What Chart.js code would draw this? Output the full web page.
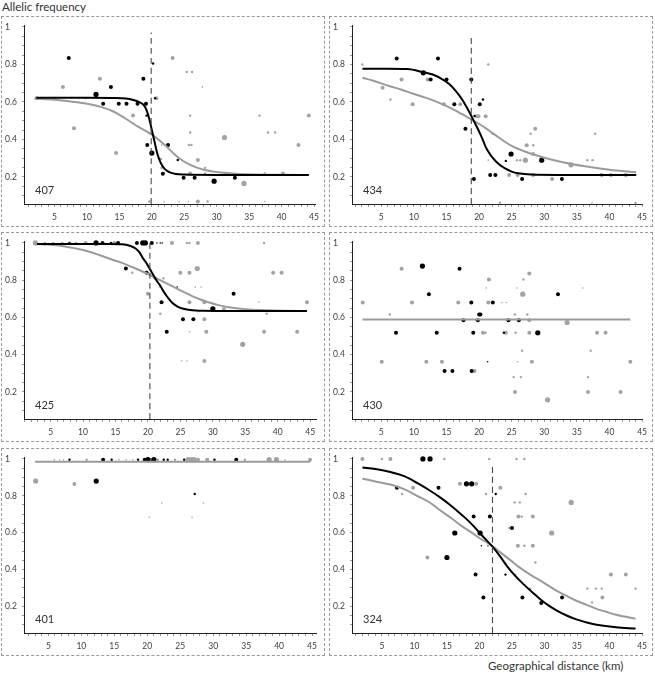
<!DOCTYPE html>
<html>
<head>
<meta charset="utf-8">
<script src="https://cdn.jsdelivr.net/npm/chart.js@4.4.1/dist/chart.umd.min.js"></script>
<style>
  body { margin: 0; background: #fff; width: 655px; height: 680px; position: relative; overflow: hidden; font-family: Lato, sans-serif; color: #333; }
  .panel { position: absolute; box-sizing: border-box; border: 1px dashed #9a9a9a; }
  .panel canvas { position: absolute; left: 0; top: 0; }
  .tag { position: absolute; font-size: 11px; color: #333; }
  .cap { position: absolute; font-size: 11.5px; color: #333; white-space: nowrap; }
</style>
</head>
<body>
<div class="cap" style="left:2px;top:0px">Allelic frequency</div>
<div class="cap" style="left:488px;top:659px">Geographical distance (km)</div>
<script>
// tick labels
const xTickLabels = [5, 10, 15, 20, 25, 30, 35, 40, 45];
const yTickLabels = [0.2, 0.4, 0.6, 0.8, 1];

// points are [distance km, frequency, sample-size class 1..4]
const blk407 = [[7.2,0.835,3],[11.4,0.64,4],[12.5,0.59,3],[13.7,0.68,3],[14.9,0.59,3],[16.1,0.59,3],[17.8,0.59,3],[18.7,0.724,3],[19.1,0.59,3],[19.2,0.527,2],[19.3,0.37,3],[20.0,0.327,4],[20.2,0.805,2],[20.5,0.62,2],[22.5,0.37,3],[21.7,0.216,3],[24.0,0.29,2],[24.9,0.195,3],[26.6,0.195,3],[29.6,0.177,4],[32.8,0.195,3]];
const gry407 = [[2.2,0.62,3],[5,0.62,2],[6.3,0.68,3],[8.0,0.46,3],[9.8,0.62,2],[12.0,0.724,3],[14.5,0.327,3],[17.1,0.527,3],[20.7,0.62,3],[21.4,0.295,2],[21.5,0.248,2],[21.5,0.37,1],[23.2,0.835,3],[25.4,0.76,2],[26.2,0.76,2],[25.9,0.527,2],[25.9,0.437,2],[25.7,0.37,2],[26.1,0.37,2],[25.9,0.218,3],[27.1,0.29,3],[27.8,0.68,1],[28.2,0.248,2],[28.2,0.218,2],[31.2,0.41,4],[34.2,0.165,4],[36.6,0.527,2],[37.4,0.218,2],[37.9,0.437,2],[39.0,0.437,2],[40.2,0.218,3],[42.6,0.37,3],[44.2,0.527,3],[19.6,0.068,2],[21.9,0.068,1],[24.2,0.068,1],[25.6,0.068,1],[27.1,0.068,3],[28.6,0.068,2],[37.4,0.068,1]];
const fitB407 = [[2.2,0.622],[6,0.622],[10,0.622],[14,0.621],[16,0.618],[17,0.612],[18,0.6],[18.7,0.585],[19.2,0.555],[19.6,0.51],[20,0.45],[20.4,0.39],[20.8,0.33],[21.3,0.28],[21.9,0.245],[22.7,0.225],[23.7,0.215],[25,0.212],[30,0.21],[40,0.21],[44.2,0.21]];
const fitG407 = [[2,0.617],[5,0.612],[8,0.6],[10,0.59],[12,0.575],[14,0.55],[16,0.51],[18,0.465],[20,0.425],[22,0.37],[24,0.305],[26,0.262],[28,0.238],[30,0.226],[33,0.217],[36,0.213],[40,0.211],[44.2,0.21]];

const blk434 = [[7.36,0.832,3],[11.44,0.755,4],[12.57,0.72,3],[13.69,0.832,3],[15.0,0.72,3],[16.2,0.587,3],[17.9,0.457,3],[18.8,0.72,3],[19.2,0.188,3],[19.3,0.525,2],[20.1,0.587,3],[20.6,0.613,2],[21.7,0.21,3],[22.5,0.21,3],[24.1,0.285,2],[24.9,0.322,4],[26.6,0.188,3],[29.6,0.289,4],[32.7,0.188,3]];
const gry434 = [[2.1,0.8,2],[5.2,0.676,3],[6.4,0.613,2],[8.1,0.72,3],[9.8,0.587,3],[12.1,0.72,3],[14.6,0.587,3],[17.1,0.587,3],[19.6,0.523,3],[19.9,0.523,3],[21.0,0.523,3],[21.4,0.8,2],[21.4,0.289,1],[22.1,0.43,2],[24.6,0.21,3],[25.9,0.21,3],[25.8,0.289,2],[26.3,0.289,2],[27.1,0.289,4],[27.3,0.369,3],[27.9,0.43,2],[28.3,0.369,2],[28.3,0.322,3],[28.6,0.457,3],[28.3,0.21,3],[31.2,0.188,3],[34.1,0.264,4],[36.6,0.289,2],[37.4,0.289,2],[37.8,0.43,2],[38.8,0.21,3],[40.2,0.21,3],[42.5,0.21,3],[23.2,0.06,2],[37.3,0.06,1],[44.0,0.06,2]];
const fitB434 = [[2.1,0.777],[6,0.777],[9,0.775],[11.3,0.76],[13,0.745],[14.5,0.718],[15.5,0.693],[16.5,0.655],[17.4,0.613],[18.2,0.565],[19,0.512],[19.6,0.47],[20.2,0.427],[20.6,0.395],[21,0.36],[21.5,0.33],[22,0.305],[23,0.268],[24,0.245],[25,0.228],[26,0.219],[28,0.212],[32,0.21],[38,0.21],[44.1,0.21]];
const fitG434 = [[2.1,0.729],[4,0.71],[6.2,0.685],[8,0.666],[9.8,0.645],[12,0.62],[13.8,0.596],[15.5,0.57],[17,0.542],[18,0.523],[19,0.502],[20,0.482],[21,0.46],[22,0.435],[23,0.41],[25,0.365],[27,0.335],[30,0.302],[33,0.277],[36,0.258],[40,0.238],[44.1,0.224]];

const blk425 = [[7.9,1.0,2],[12.0,1.0,4],[13.0,1.0,3],[14.3,1.0,2],[15.4,1.0,3],[16.6,0.863,3],[18.3,1.0,3],[19.2,1.0,4],[19.6,1.0,4],[19.8,0.84,3],[20.6,1.0,3],[21.1,0.81,2],[21.9,1.0,1],[22.2,1.0,1],[22.1,0.682,3],[22.9,0.523,3],[24.5,0.763,1],[25.4,0.59,3],[27.0,0.59,3],[30.0,0.646,4],[33.2,0.727,3]];
const gry425 = [[2.65,1.0,4],[4.1,1.0,2],[5.4,1.0,2],[6.8,1.0,2],[8.9,1.0,2],[10.4,1.0,3],[14.8,1.0,3],[17.6,0.84,2],[20.0,0.727,3],[21.4,1.0,2],[21.8,0.763,1],[21.9,0.62,2],[22.4,0.81,2],[23.7,1.0,3],[25.0,0.84,3],[25.2,0.366,1],[26.0,0.366,1],[26.0,1.0,2],[26.4,1.0,2],[27.7,1.0,3],[26.4,0.84,3],[26.4,0.682,3],[26.4,0.523,1],[27.3,0.763,1],[28.2,0.763,1],[27.6,0.863,4],[28.7,0.59,3],[28.7,0.682,3],[28.7,0.366,3],[29.0,0.523,3],[31.7,0.646,3],[34.6,0.456,4],[37.1,0.682,1],[37.9,1.0,2],[37.9,0.523,3],[38.3,0.62,2],[39.3,0.84,3],[40.6,0.84,3],[43.0,0.523,3],[44.5,0.682,3]];
const fitB425 = [[2.9,0.995],[8,0.995],[14,0.995],[16,0.993],[17.2,0.985],[18.1,0.97],[18.7,0.95],[19.2,0.92],[19.8,0.89],[20.3,0.86],[20.8,0.83],[21.3,0.8],[21.9,0.77],[22.4,0.74],[23,0.71],[23.7,0.68],[24.5,0.66],[25.3,0.648],[26.5,0.64],[28.5,0.636],[33,0.635],[40,0.635],[44.5,0.635]];
const fitG425 = [[2.6,0.995],[5,0.99],[7.4,0.98],[10,0.962],[12.5,0.935],[14.5,0.91],[16,0.893],[17.6,0.87],[19.6,0.84],[21,0.815],[22.2,0.795],[23.5,0.772],[25,0.745],[26.8,0.715],[28,0.698],[29.3,0.682],[31,0.665],[33,0.652],[35,0.644],[38,0.639],[41,0.636],[44.5,0.635]];

const blk430 = [[11.3,0.876,4],[12.3,0.725,3],[7.25,0.518,3],[13.5,0.518,3],[14.7,0.313,3],[15.9,0.313,3],[17.0,0.862,3],[17.6,0.585,3],[18.85,0.313,3],[18.8,0.68,3],[19.1,0.518,3],[19.8,0.585,3],[20.0,0.616,3],[20.2,0.616,3],[21.3,0.362,1],[22.1,0.68,3],[23.8,0.518,2],[24.5,0.585,3],[26.1,0.585,3],[29.0,0.518,4],[32.1,0.725,3]];
const gry430 = [[2.15,0.68,3],[5.06,0.362,3],[6.3,0.616,2],[8.1,0.862,3],[9.7,0.68,3],[11.9,0.362,3],[14.3,0.362,3],[16.8,0.68,3],[19.3,0.313,3],[20.6,0.518,3],[21.0,0.518,2],[21.1,0.758,1],[21.5,0.804,3],[21.4,0.68,3],[23.5,0.68,1],[24.2,0.68,1],[24.1,0.518,3],[25.5,0.616,2],[25.6,0.518,2],[25.8,0.758,1],[25.9,0.362,1],[25.3,0.28,2],[25.5,0.2,3],[26.4,0.28,2],[26.6,0.422,2],[26.7,0.725,4],[26.8,0.804,2],[27.4,0.616,2],[27.7,0.836,3],[27.7,0.585,3],[27.7,0.518,3],[28.1,0.362,3],[33.5,0.573,4],[35.9,0.758,1],[36.7,0.28,2],[36.7,0.2,3],[37.1,0.422,2],[38.1,0.518,3],[39.4,0.518,3],[41.7,0.2,3],[43.2,0.362,3],[30.5,0.158,4]];
const fitG430 = [[2.1,0.589],[43.2,0.589]];

const blk401 = [[8.2,0.996,2],[13.3,0.996,3],[14.6,0.996,2],[18.6,0.996,2],[19.6,0.996,3],[20.1,0.996,4],[21.0,0.996,4],[22.5,0.996,2],[23.1,0.996,2],[25.6,0.996,2],[30.2,0.996,2],[33.5,0.996,3],[12.26,0.88,4],[27.2,0.81,2]];
const gry401 = [[5.9,0.996,1],[6.7,0.996,1],[7.3,0.996,1],[10.8,0.996,2],[15.7,0.996,1],[16.8,0.996,1],[17.8,0.996,1],[20.6,0.996,3],[21.6,0.996,2],[24.2,0.996,2],[26.2,0.996,4],[26.7,0.996,4],[27.1,0.996,4],[27.7,0.996,3],[29.1,0.996,3],[34.8,0.996,2],[38.5,0.996,4],[39.6,0.996,4],[40.9,0.996,1],[44.7,0.996,3],[3.07,0.88,4],[8.94,0.864,3],[22.2,0.761,1],[28.5,0.761,1],[20.3,0.683,1],[26.8,0.683,1]];
const fitG401 = [[3.0,0.985],[44.7,0.985]];

const blk324 = [[11.3,1.0,4],[12.4,1.0,4],[7.3,0.844,3],[13.7,0.844,3],[18.0,0.865,4],[18.8,0.865,4],[19.1,0.687,3],[21.6,0.687,3],[16.2,0.598,4],[20.1,0.598,4],[20.3,0.529,1],[22.5,0.81,2],[25.0,0.625,3],[15.0,0.465,4],[19.4,0.372,3],[24.0,0.372,2],[20.6,0.248,3],[26.6,0.248,3],[29.5,0.218,3],[32.7,0.248,3]];
const gry324 = [[2.0,1.0,3],[5.0,1.0,2],[6.3,1.0,3],[14.6,1.0,2],[21.5,1.0,2],[25.7,1.0,2],[26.9,1.0,2],[8.1,0.81,2],[9.8,0.844,3],[17.0,0.865,3],[19.5,0.865,3],[21.0,0.81,2],[23.2,0.844,3],[25.4,0.764,2],[26.2,0.764,2],[27.1,0.81,2],[26.0,0.687,3],[26.5,0.687,2],[28.2,0.687,3],[24.6,0.625,2],[31.1,0.598,4],[34.1,0.764,4],[25.9,0.529,3],[26.9,0.529,2],[28.2,0.529,3],[21.3,0.529,2],[12.0,0.465,3],[28.6,0.438,2],[25.6,0.372,1],[27.8,0.296,2],[36.6,0.296,2],[37.9,0.296,2],[38.8,0.296,2],[38.9,0.248,3],[37.3,0.221,2],[40.2,0.372,3],[42.5,0.372,3],[44.0,0.296,2]];
const fitB324 = [[2,0.954],[4,0.945],[6.3,0.929],[8.5,0.905],[10.4,0.87],[12.3,0.83],[14,0.79],[15.3,0.755],[16.5,0.72],[17.8,0.68],[19.1,0.635],[20.5,0.58],[22,0.524],[23.2,0.47],[24.2,0.42],[25.5,0.365],[26.8,0.319],[28,0.28],[29.3,0.24],[30.6,0.205],[31.9,0.177],[33.4,0.15],[34.9,0.129],[36.5,0.112],[38,0.1],[41,0.086],[44,0.079]];
const fitG324 = [[2,0.893],[4,0.878],[6.3,0.861],[8.5,0.835],[10.4,0.8],[12.3,0.765],[14,0.72],[15.8,0.675],[17.5,0.63],[18.8,0.6],[20.1,0.568],[22,0.527],[23.3,0.49],[24.7,0.452],[26.2,0.41],[27.8,0.372],[29.8,0.33],[31.9,0.284],[33.4,0.256],[34.9,0.23],[36.5,0.208],[38,0.186],[39.5,0.17],[41,0.154],[42.5,0.143],[44,0.132]];

// cline centres (km) and the top of the dashed marker
const centre407 = [19.9, 0.97];
const centre434 = [18.8, 0.95];
const centre425 = [20.3, 1.01];
const centre324 = [22.0, 0.96];

const Y_MIN = 0.055, Y_MAX = 1.01;
const RADII = [0, 0.8, 1.2, 2.0, 2.6];
const BLACK = "#000000";
const GREY = "#a3a3a3";

const panels = [
  { tag: "407", box: [1, 16, 324, 211], blk: blk407, gry: gry407, fitB: fitB407, fitG: fitG407, centre: centre407, xMin: 0.3, xMax: 45.2 },
  { tag: "434", box: [329, 16, 324, 211], blk: blk434, gry: gry434, fitB: fitB434, fitG: fitG434, centre: centre434, xMin: 0.5, xMax: 45 },
  { tag: "425", box: [1, 232, 324, 210], blk: blk425, gry: gry425, fitB: fitB425, fitG: fitG425, centre: centre425, xMin: 0.9, xMax: 45.9 },
  { tag: "430", box: [329, 232, 324, 210], blk: blk430, gry: gry430, fitB: null, fitG: fitG430, centre: null, xMin: 0.5, xMax: 45 },
  { tag: "401", box: [1, 448, 324, 208], blk: blk401, gry: gry401, fitB: null, fitG: fitG401, centre: null, xMin: 1.3, xMax: 45.6 },
  { tag: "324", box: [329, 448, 324, 208], blk: blk324, gry: gry324, fitB: fitB324, fitG: fitG324, centre: centre324, xMin: 0.4, xMax: 45 },
];

const X_AXIS_H = 22;
const tickFont = { family: "Lato, sans-serif", size: 8.5 };

function pointsSet(list, color, order) {
  return {
    type: "scatter",
    data: list.map((p) => ({ x: p[0], y: p[1], s: p[2] })),
    backgroundColor: color,
    borderWidth: 0,
    pointRadius: (c) => RADII[c.raw ? c.raw.s : 2],
    pointHoverRadius: 0,
    clip: false,
    order,
  };
}

function lineSet(list, color, width, order, dash) {
  return {
    type: "line",
    data: list.map((p) => ({ x: p[0], y: p[1] })),
    borderColor: color,
    borderWidth: width,
    borderDash: dash || [],
    pointRadius: 0,
    fill: false,
    cubicInterpolationMode: "monotone",
    clip: false,
    order,
  };
}

for (const p of panels) {
  const [left, top, w, h] = p.box;
  const div = document.createElement("div");
  div.className = "panel";
  Object.assign(div.style, { left: left + "px", top: top + "px", width: w + "px", height: h + "px" });
  const cv = document.createElement("canvas");
  cv.width = w - 2;
  cv.height = h - 2;
  div.appendChild(cv);
  const tag = document.createElement("div");
  tag.className = "tag";
  tag.textContent = p.tag;
  Object.assign(tag.style, { left: "33px", top: (h - 45) + "px" });
  div.appendChild(tag);
  document.body.appendChild(div);

  const datasets = [pointsSet(p.gry, GREY, 5), pointsSet(p.blk, BLACK, 4)];
  if (p.fitG) datasets.push(lineSet(p.fitG, "#9b9b9b", 2, 3));
  if (p.fitB) datasets.push(lineSet(p.fitB, "#000", 2, 2));
  if (p.centre) {
    datasets.push(lineSet([[p.centre[0], Y_MIN], [p.centre[0], p.centre[1]]], "#4a4a4a", 1.1, 1, [6, 4]));
  }

  new Chart(cv, {
    data: { datasets },
    options: {
      responsive: false,
      animation: false,
      devicePixelRatio: 1,
      layout: { padding: { left: 3, top: 8, right: 8, bottom: 0 } },
      plugins: { legend: { display: false }, tooltip: { enabled: false } },
      events: [],
      scales: {
        x: {
          type: "linear",
          min: p.xMin,
          max: p.xMax,
          afterBuildTicks: (s) => {
            const t = [];
            for (let v = 1; v <= 45; v++) if (v >= s.min && v <= s.max) t.push({ value: v });
            s.ticks = t;
          },
          afterFit: (s) => { s.height = X_AXIS_H; },
          ticks: {
            autoSkip: false, maxRotation: 0, minRotation: 0, padding: 5,
            color: "#404040", font: tickFont,
            callback: (v) => (xTickLabels.includes(v) ? String(v) : ""),
          },
          grid: { drawOnChartArea: false, drawTicks: true, tickLength: 3, color: "#9a9a9a" },
          border: { display: true, color: "#222", width: 1 },
        },
        y: {
          type: "linear",
          min: Y_MIN,
          max: Y_MAX,
          afterBuildTicks: (s) => {
            const t = [];
            for (let k = 2; k <= 20; k++) t.push({ value: k / 20 });
            s.ticks = t;
          },
          afterFit: (s) => { s.width = 19; },
          ticks: {
            autoSkip: false, crossAlign: "far", padding: 3,
            color: "#404040", font: tickFont,
            callback: (v) => (yTickLabels.includes(v) ? String(v) : ""),
          },
          grid: { drawOnChartArea: false, drawTicks: true, tickLength: 2, color: "#9a9a9a" },
          border: { display: true, color: "#222", width: 1 },
        },
      },
    },
  });
}
</script>
</body>
</html>
